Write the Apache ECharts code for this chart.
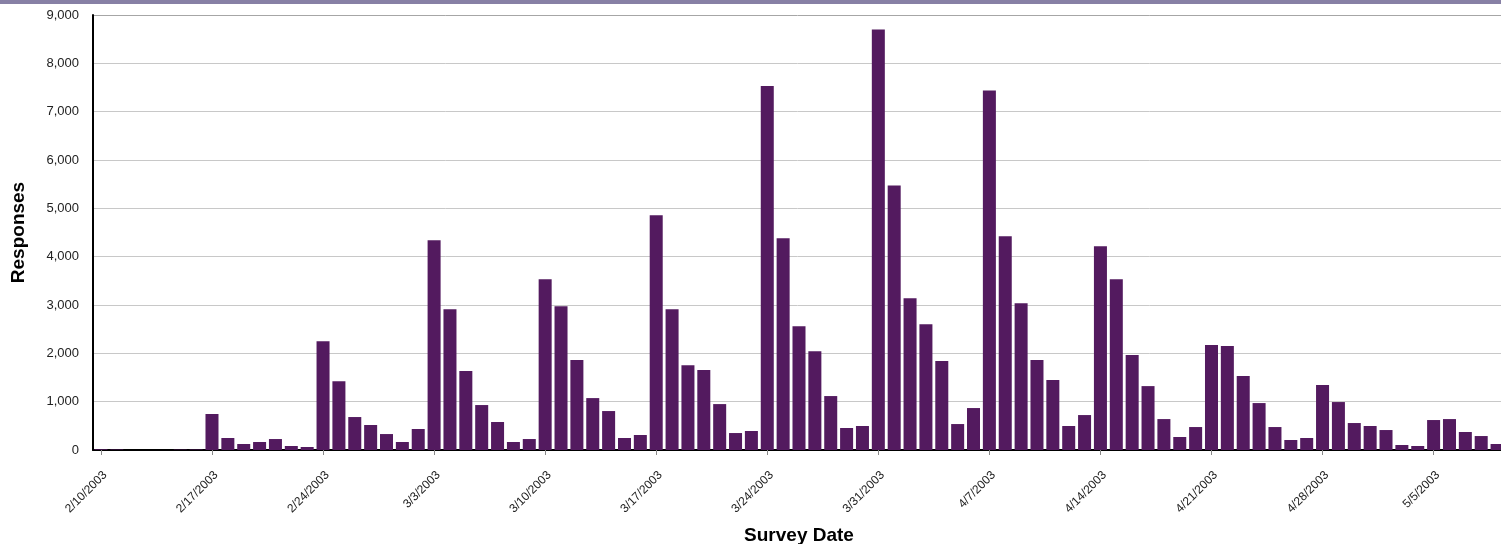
<!DOCTYPE html>
<html>
<head>
<meta charset="utf-8">
<script src="https://cdn.jsdelivr.net/npm/echarts@6/dist/echarts.min.js"></script>
<style>html,body{margin:0;padding:0;background:#fff;}#c{width:1501px;height:544px;}</style>
</head>
<body>
<div id="c"></div>
<script>
const categories = [
 "2/10/2003","2/11/2003","2/12/2003","2/13/2003","2/14/2003","2/15/2003","2/16/2003",
 "2/17/2003","2/18/2003","2/19/2003","2/20/2003","2/21/2003","2/22/2003","2/23/2003",
 "2/24/2003","2/25/2003","2/26/2003","2/27/2003","2/28/2003","3/1/2003","3/2/2003",
 "3/3/2003","3/4/2003","3/5/2003","3/6/2003","3/7/2003","3/8/2003","3/9/2003",
 "3/10/2003","3/11/2003","3/12/2003","3/13/2003","3/14/2003","3/15/2003","3/16/2003",
 "3/17/2003","3/18/2003","3/19/2003","3/20/2003","3/21/2003","3/22/2003","3/23/2003",
 "3/24/2003","3/25/2003","3/26/2003","3/27/2003","3/28/2003","3/29/2003","3/30/2003",
 "3/31/2003","4/1/2003","4/2/2003","4/3/2003","4/4/2003","4/5/2003","4/6/2003",
 "4/7/2003","4/8/2003","4/9/2003","4/10/2003","4/11/2003","4/12/2003","4/13/2003",
 "4/14/2003","4/15/2003","4/16/2003","4/17/2003","4/18/2003","4/19/2003","4/20/2003",
 "4/21/2003","4/22/2003","4/23/2003","4/24/2003","4/25/2003","4/26/2003","4/27/2003",
 "4/28/2003","4/29/2003","4/30/2003","5/1/2003","5/2/2003","5/3/2003","5/4/2003",
 "5/5/2003","5/6/2003","5/7/2003","5/8/2003","5/9/2003"
];
const responses = [
 15, 10, 0, 0, 0, 8, 10,
 745, 248, 124, 165, 227, 83, 62,
 2250, 1425, 682, 517, 330, 165, 434,
 4340, 2913, 1632, 930, 579, 165, 227,
 3533, 2975, 1860, 1074, 806, 248, 310,
 4855, 2913, 1756, 1653, 950, 351, 393,
 7530, 4380, 2562, 2045, 1116, 455, 496,
 8700, 5475, 3140, 2603, 1839, 537, 868,
 7438, 4421, 3037, 1860, 1446, 496, 723,
 4215, 3533, 1963, 1322, 640, 269, 475,
 2170, 2150, 1529, 971, 475, 207, 248,
 1343, 992, 558, 496, 413, 103, 83,
 620, 640, 372, 289, 124
];
const yTicks = { min: 0, max: 9000, interval: 1000 };
const xAxisTitle = "Survey Date";
const yAxisTitle = "Responses";

const gridColors = ['#c8c8c8','#c8c8c8','#c8c8c8','#c8c8c8','#c8c8c8','#c8c8c8','#c8c8c8','#c8c8c8','#c8c8c8','#a6a6a6'];

const chart = echarts.init(document.getElementById('c'), null, { renderer: 'canvas' });
chart.setOption({
  animation: false,
  backgroundColor: '#ffffff',
  graphic: [{
    type: 'rect', left: 0, top: 0, shape: { width: 1501, height: 4 },
    style: { fill: '#8780a5' }, silent: true
  }],
  grid: { left: 93, right: -4, top: 15, bottom: 94, containLabel: false, outerBoundsMode: 'none' },
  xAxis: {
    type: 'category',
    data: categories,
    boundaryGap: true,
    name: xAxisTitle,
    nameLocation: 'middle',
    nameGap: 76,
    nameTextStyle: { fontFamily: 'Liberation Sans, Arial', fontWeight: 'bold', fontSize: 19, color: '#000' },
    axisLine: { lineStyle: { color: '#000', width: 2 } },
    axisTick: { show: true, interval: 6, alignWithLabel: true, length: 5, lineStyle: { color: '#888' } },
    axisLabel: { interval: 6, rotate: 45, margin: 19, verticalAlign: 'top', fontFamily: 'Liberation Sans, Arial', fontSize: 12, color: '#222' },
    splitLine: { show: false }
  },
  yAxis: {
    type: 'value',
    min: yTicks.min, max: yTicks.max, interval: yTicks.interval,
    name: yAxisTitle,
    nameLocation: 'middle',
    nameGap: 65,
    nameTextStyle: { fontFamily: 'Liberation Sans, Arial', fontWeight: 'bold', fontSize: 19, color: '#000' },
    axisLine: { show: true, lineStyle: { color: '#000', width: 2 } },
    axisTick: { show: false },
    axisLabel: {
      margin: 14, fontFamily: 'Liberation Sans, Arial', fontSize: 13, color: '#222',
      formatter: v => v.toLocaleString('en-US')
    },
    splitLine: { show: true, lineStyle: { color: gridColors, width: 1 } }
  },
  series: [{
    type: 'bar',
    data: responses,
    barCategoryGap: '18%',
    itemStyle: { color: '#531a5f' }
  }]
});
</script>
</body>
</html>
